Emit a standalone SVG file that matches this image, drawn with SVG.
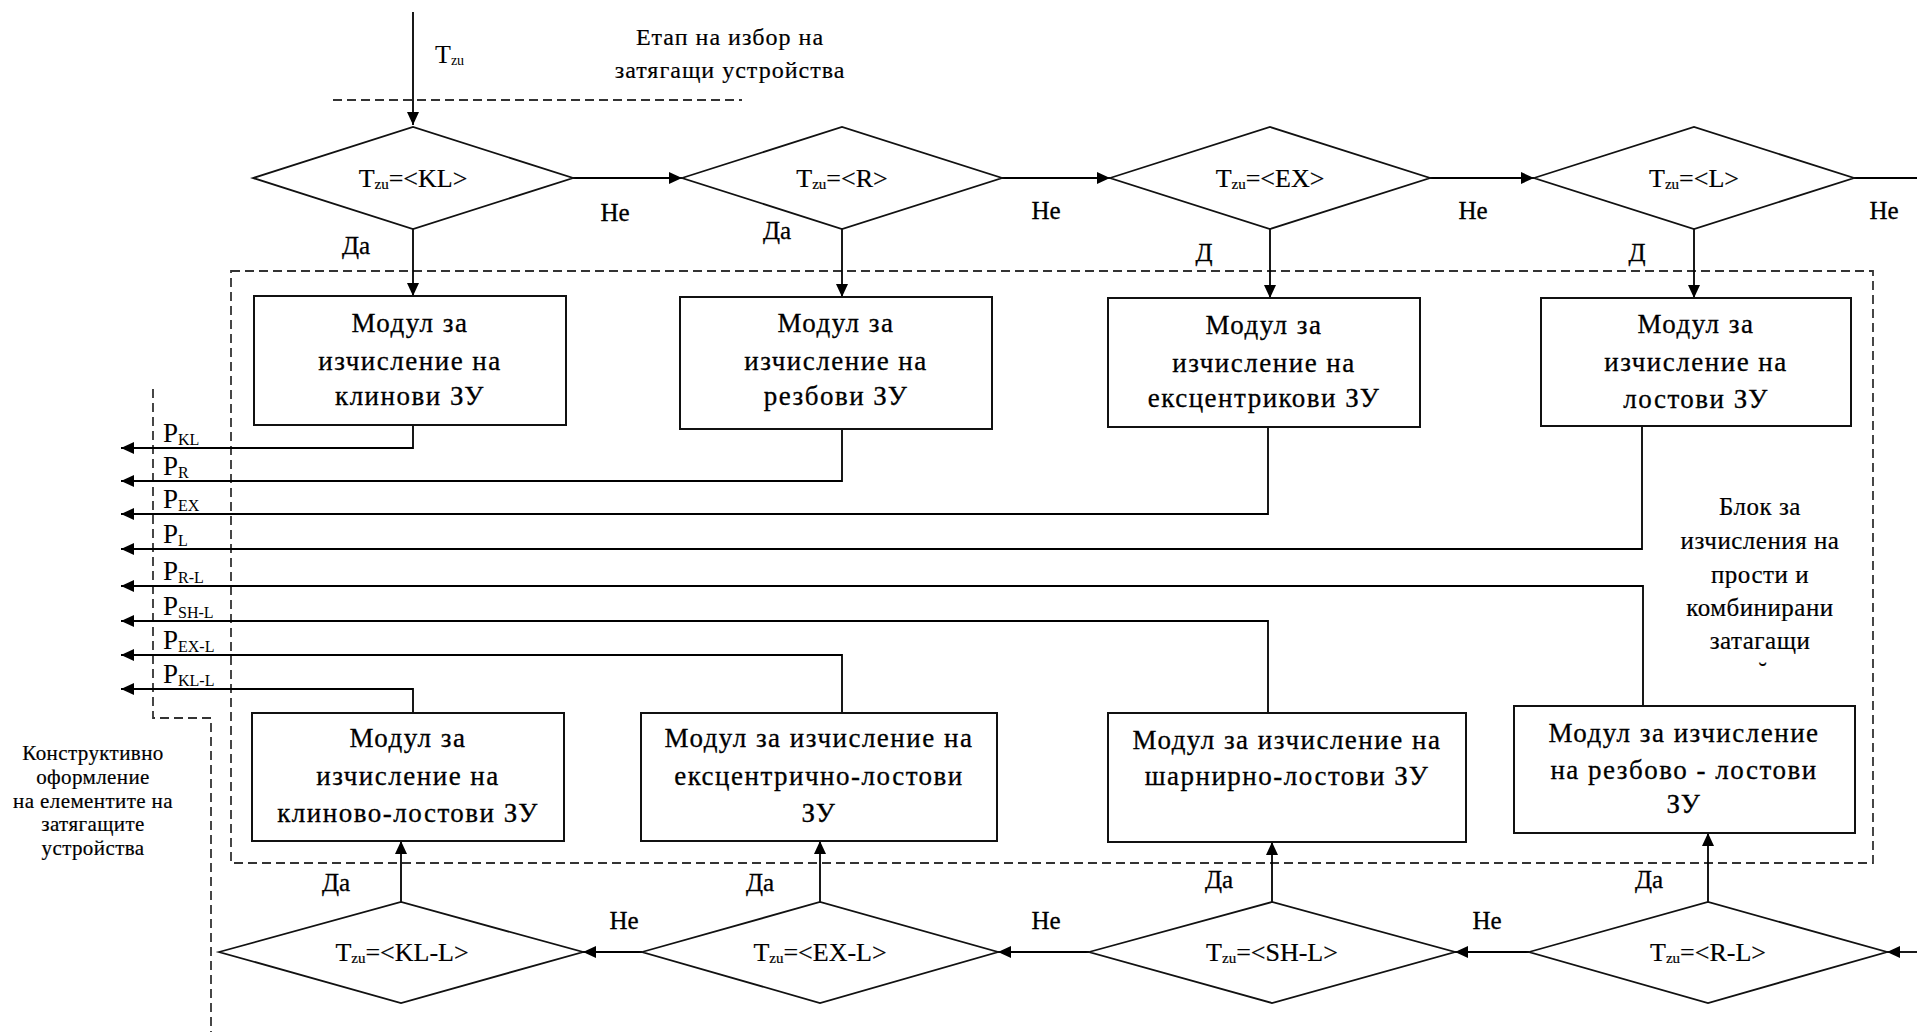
<svg xmlns="http://www.w3.org/2000/svg" width="1917" height="1032" viewBox="0 0 1917 1032">
  <defs>
    <marker id="arr" markerUnits="userSpaceOnUse" markerWidth="14" markerHeight="12" refX="13" refY="6" orient="auto">
      <path d="M0,0 L13,6 L0,12 z" fill="#000"/>
    </marker>
    <style>
      text { font-family: "Liberation Serif", "Times New Roman", serif; fill: #000; }
      .box { fill: #fff; stroke: #111; stroke-width: 2; }
      .dia { fill: #fff; stroke: #111; stroke-width: 1.8; }
      .bt { font-size: 27px; letter-spacing: 1.5px; text-anchor: middle; stroke: #000; stroke-width: 0.3; }
      .dt { font-size: 26px; text-anchor: middle; stroke: #000; stroke-width: 0.2; }
      .lab { font-size: 25px; text-anchor: middle; stroke: #000; stroke-width: 0.3; }
      .p { font-size: 27px; }
      .sub { font-size: 16px; }
      .note { font-size: 21px; letter-spacing: 0.4px; text-anchor: middle; stroke: #000; stroke-width: 0.2; }
      .blk { font-size: 25px; text-anchor: middle; letter-spacing: 0.5px; stroke: #000; stroke-width: 0.2; }
      .stage { font-size: 24px; letter-spacing: 1px; text-anchor: middle; stroke: #000; stroke-width: 0.2; }
      .dash { fill: none; stroke: #333; stroke-width: 1.8; stroke-dasharray: 9 5; }
      .ln { fill: none; stroke: #000; stroke-width: 1.8; }
    </style>
  </defs>

  <!-- dashed frames -->
  <g id="frames">
    <line class="dash" x1="333" y1="100" x2="742" y2="100"/>
    <rect class="dash" x="231" y="271" width="1642" height="592"/>
    <path class="dash" d="M153,389 V718 H211 V1032"/>
  </g>

  <!-- connectors -->
  <g id="connectors">
    <path class="ln" d="M413,12 V125" marker-end="url(#arr)"/>
    <path class="ln" d="M573,178 H682" marker-end="url(#arr)"/>
    <path class="ln" d="M1002,178 H1110" marker-end="url(#arr)"/>
    <path class="ln" d="M1430,178 H1534" marker-end="url(#arr)"/>
    <path class="ln" d="M1854,178 H1917"/>
    <path class="ln" d="M413,229 V296" marker-end="url(#arr)"/>
    <path class="ln" d="M842,229 V297" marker-end="url(#arr)"/>
    <path class="ln" d="M1270,229 V298" marker-end="url(#arr)"/>
    <path class="ln" d="M1694,229 V298" marker-end="url(#arr)"/>
    <path class="ln" d="M413,425 V448 H121" marker-end="url(#arr)"/>
    <path class="ln" d="M842,429 V481 H121" marker-end="url(#arr)"/>
    <path class="ln" d="M1268,427 V514 H121" marker-end="url(#arr)"/>
    <path class="ln" d="M1642,426 V549 H121" marker-end="url(#arr)"/>
    <path class="ln" d="M1643,706 V586 H121" marker-end="url(#arr)"/>
    <path class="ln" d="M1268,713 V621 H121" marker-end="url(#arr)"/>
    <path class="ln" d="M842,713 V655 H121" marker-end="url(#arr)"/>
    <path class="ln" d="M413,713 V689 H121" marker-end="url(#arr)"/>
    <path class="ln" d="M1917,952 H1887" marker-end="url(#arr)"/>
    <path class="ln" d="M1529,952 H1455" marker-end="url(#arr)"/>
    <path class="ln" d="M1089,952 H998" marker-end="url(#arr)"/>
    <path class="ln" d="M642,952 H583" marker-end="url(#arr)"/>
    <path class="ln" d="M401,902 V841" marker-end="url(#arr)"/>
    <path class="ln" d="M820,902 V841" marker-end="url(#arr)"/>
    <path class="ln" d="M1272,902 V842" marker-end="url(#arr)"/>
    <path class="ln" d="M1708,902 V833" marker-end="url(#arr)"/>
  </g>

  <!-- stage caption and input -->
  <g id="stage-label">
    <text class="stage" x="730" y="45">Етап на избор на</text>
    <text class="stage" x="730" y="78">затягащи устройства</text>
    <text class="p" x="435" y="63" style="font-size:26px">T<tspan class="sub" style="font-size:14px" dy="2">zu</tspan></text>
  </g>

  <!-- top decisions -->
  <g id="d-kl">
    <polygon class="dia" points="253,178 413,127 573,178 413,229"/>
    <text class="dt" x="413" y="187">T<tspan style="font-size:15px" dy="2">zu</tspan><tspan dy="-2">=&lt;KL&gt;</tspan></text>
  </g>
  <g id="d-r">
    <polygon class="dia" points="682,178 842,127 1002,178 842,229"/>
    <text class="dt" x="842" y="187">T<tspan style="font-size:15px" dy="2">zu</tspan><tspan dy="-2">=&lt;R&gt;</tspan></text>
  </g>
  <g id="d-ex">
    <polygon class="dia" points="1110,178 1270,127 1430,178 1270,229"/>
    <text class="dt" x="1270" y="187">T<tspan style="font-size:15px" dy="2">zu</tspan><tspan dy="-2">=&lt;EX&gt;</tspan></text>
  </g>
  <g id="d-l">
    <polygon class="dia" points="1534,178 1694,127 1854,178 1694,229"/>
    <text class="dt" x="1694" y="187">T<tspan style="font-size:15px" dy="2">zu</tspan><tspan dy="-2">=&lt;L&gt;</tspan></text>
  </g>

  <!-- branch labels, top row -->
  <g id="labels-top">
    <text class="lab" x="356" y="254">Да</text>
    <text class="lab" x="615" y="221">Не</text>
    <text class="lab" x="777" y="239">Да</text>
    <text class="lab" x="1046" y="219">Не</text>
    <text class="lab" x="1204" y="261">Д</text>
    <text class="lab" x="1473" y="219">Не</text>
    <text class="lab" x="1637" y="261">Д</text>
    <text class="lab" x="1884" y="219">Не</text>
  </g>

  <!-- simple clamping modules -->
  <g id="m-kl">
    <rect class="box" x="254" y="296" width="312" height="129"/>
    <text class="bt" x="410" y="332">Модул за</text>
    <text class="bt" x="410" y="370">изчисление на</text>
    <text class="bt" x="410" y="405">клинови ЗУ</text>
  </g>
  <g id="m-r">
    <rect class="box" x="680" y="297" width="312" height="132"/>
    <text class="bt" x="836" y="332">Модул за</text>
    <text class="bt" x="836" y="370">изчисление на</text>
    <text class="bt" x="836" y="405">резбови ЗУ</text>
  </g>
  <g id="m-ex">
    <rect class="box" x="1108" y="298" width="312" height="129"/>
    <text class="bt" x="1264" y="334">Модул за</text>
    <text class="bt" x="1264" y="372">изчисление на</text>
    <text class="bt" x="1264" y="407">ексцентрикови ЗУ</text>
  </g>
  <g id="m-l">
    <rect class="box" x="1541" y="298" width="310" height="128"/>
    <text class="bt" x="1696" y="333">Модул за</text>
    <text class="bt" x="1696" y="371">изчисление на</text>
    <text class="bt" x="1696" y="408">лостови ЗУ</text>
  </g>

  <!-- output parameter labels -->
  <g id="outputs">
    <text class="p" x="163" y="442">P<tspan class="sub" dy="3">KL</tspan></text>
    <text class="p" x="163" y="475">P<tspan class="sub" dy="3">R</tspan></text>
    <text class="p" x="163" y="508">P<tspan class="sub" dy="3">EX</tspan></text>
    <text class="p" x="163" y="543">P<tspan class="sub" dy="3">L</tspan></text>
    <text class="p" x="163" y="580">P<tspan class="sub" dy="3">R-L</tspan></text>
    <text class="p" x="163" y="615">P<tspan class="sub" dy="3">SH-L</tspan></text>
    <text class="p" x="163" y="649">P<tspan class="sub" dy="3">EX-L</tspan></text>
    <text class="p" x="163" y="683">P<tspan class="sub" dy="3">KL-L</tspan></text>
  </g>

  <!-- block caption -->
  <g id="block-label">
    <text class="blk" x="1760" y="515">Блок за</text>
    <text class="blk" x="1760" y="549">изчисления на</text>
    <text class="blk" x="1760" y="583">прости и</text>
    <text class="blk" x="1760" y="616">комбинирани</text>
    <text class="blk" x="1760" y="649">затагащи</text>
    <text class="blk" x="1763" y="680">˘</text>
  </g>

  <!-- combined clamping modules -->
  <g id="m-kl-l">
    <rect class="box" x="252" y="713" width="312" height="128"/>
    <text class="bt" x="408" y="747">Модул за</text>
    <text class="bt" x="408" y="785">изчисление на</text>
    <text class="bt" x="408" y="822">клиново-лостови ЗУ</text>
  </g>
  <g id="m-ex-l">
    <rect class="box" x="641" y="713" width="356" height="128"/>
    <text class="bt" x="819" y="747">Модул за изчисление на</text>
    <text class="bt" x="819" y="785">ексцентрично-лостови</text>
    <text class="bt" x="819" y="822">ЗУ</text>
  </g>
  <g id="m-sh-l">
    <rect class="box" x="1108" y="713" width="358" height="129"/>
    <text class="bt" x="1287" y="749">Модул за изчисление на</text>
    <text class="bt" x="1287" y="785">шарнирно-лостови ЗУ</text>
  </g>
  <g id="m-r-l">
    <rect class="box" x="1514" y="706" width="341" height="127"/>
    <text class="bt" x="1684" y="742">Модул за изчисление</text>
    <text class="bt" x="1684" y="779">на резбово - лостови</text>
    <text class="bt" x="1684" y="813">ЗУ</text>
  </g>

  <!-- bottom decisions -->
  <g id="d-kl-l">
    <polygon class="dia" points="219,952 401,902 583,952 401,1003"/>
    <text class="dt" x="402" y="961">T<tspan style="font-size:15px" dy="2">zu</tspan><tspan dy="-2">=&lt;KL-L&gt;</tspan></text>
  </g>
  <g id="d-ex-l">
    <polygon class="dia" points="642,952 820,902 998,952 820,1003"/>
    <text class="dt" x="820" y="961">T<tspan style="font-size:15px" dy="2">zu</tspan><tspan dy="-2">=&lt;EX-L&gt;</tspan></text>
  </g>
  <g id="d-sh-l">
    <polygon class="dia" points="1089,952 1272,902 1455,952 1272,1003"/>
    <text class="dt" x="1272" y="961">T<tspan style="font-size:15px" dy="2">zu</tspan><tspan dy="-2">=&lt;SH-L&gt;</tspan></text>
  </g>
  <g id="d-r-l">
    <polygon class="dia" points="1529,952 1708,902 1887,952 1708,1003"/>
    <text class="dt" x="1708" y="961">T<tspan style="font-size:15px" dy="2">zu</tspan><tspan dy="-2">=&lt;R-L&gt;</tspan></text>
  </g>

  <!-- branch labels, bottom row -->
  <g id="labels-bottom">
    <text class="lab" x="336" y="891">Да</text>
    <text class="lab" x="624" y="929">Не</text>
    <text class="lab" x="760" y="891">Да</text>
    <text class="lab" x="1046" y="929">Не</text>
    <text class="lab" x="1219" y="888">Да</text>
    <text class="lab" x="1487" y="929">Не</text>
    <text class="lab" x="1649" y="888">Да</text>
  </g>

  <!-- design stage caption -->
  <g id="design-label">
    <text class="note" x="93" y="760">Конструктивно</text>
    <text class="note" x="93" y="784">оформление</text>
    <text class="note" x="93" y="808">на елементите на</text>
    <text class="note" x="93" y="831">затягащите</text>
    <text class="note" x="93" y="855">устройства</text>
  </g>
</svg>
